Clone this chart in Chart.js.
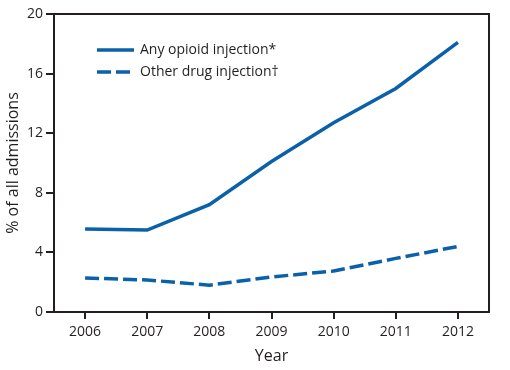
<!DOCTYPE html>
<html lang="en">
<head>
    <meta charset="UTF-8">
    <title>Injection drug use admissions</title>
    <script src="https://cdn.jsdelivr.net/npm/chart.js"></script>
    <style>
        body {
            margin: 0;
            background: white;
        }
        #wrap {
            width: 510px;
            height: 370px;
        }
    </style>
</head>
<body>
    <div id="wrap"><canvas id="chart" width="510" height="370"></canvas></div>

    <script>
        const years = ["2006", "2007", "2008", "2009", "2010", "2011", "2012"];
        const opioid = [5.57, 5.5, 7.2, 10.1, 12.7, 15.0, 18.1];
        const otherDrug = [2.28, 2.15, 1.8, 2.35, 2.75, 3.6, 4.4];
        const yTicks = [0, 4, 8, 12, 16, 20];

        const blue = "#0a61aa";
        const ink = "#231f20";
        const font = "'Open Sans', sans-serif";

        // box around the plot area plus the legend inside it
        const boxAndLegend = {
            id: "boxAndLegend",
            afterDraw(chart) {
                const ctx = chart.ctx;
                const a = chart.chartArea;
                ctx.save();
                ctx.strokeStyle = ink;
                ctx.lineWidth = 2;
                ctx.strokeRect(a.left, a.top, a.right - a.left, a.bottom - a.top);

                const items = [
                    { text: "Any opioid injection*", dash: [] },
                    { text: "Other drug injection\u2020", dash: [14, 5] }
                ];
                ctx.font = "14px " + font;
                ctx.textBaseline = "middle";
                items.forEach((it, i) => {
                    const y = 50 + i * 22;
                    ctx.strokeStyle = blue;
                    ctx.lineWidth = 3.5;
                    ctx.setLineDash(it.dash);
                    ctx.beginPath();
                    ctx.moveTo(97, y);
                    ctx.lineTo(134, y);
                    ctx.stroke();
                    ctx.setLineDash([]);
                    ctx.fillStyle = ink;
                    ctx.fillText(it.text, 140, y);
                });
                ctx.restore();
            }
        };

        new Chart(document.getElementById("chart"), {
            type: "line",
            data: {
                labels: years,
                datasets: [
                    { label: "Any opioid injection*", data: opioid, borderColor: blue, borderWidth: 3.5, pointRadius: 0, tension: 0 },
                    { label: "Other drug injection\u2020", data: otherDrug, borderColor: blue, borderWidth: 3.5, borderDash: [14, 5], pointRadius: 0, tension: 0 }
                ]
            },
            options: {
                responsive: false,
                animation: false,
                layout: { padding: { top: 14, right: 21, left: 0, bottom: 0 } },
                plugins: { legend: { display: false }, tooltip: { enabled: false } },
                scales: {
                    x: {
                        offset: true,
                        grid: { offset: false, drawOnChartArea: false, drawTicks: true, tickLength: 7, color: ink, lineWidth: 2 },
                        border: { display: false },
                        ticks: { color: ink, font: { family: font, size: 14 }, padding: 5, maxRotation: 0 },
                        title: { display: true, text: "Year", color: ink, font: { family: font, size: 16 }, padding: { top: 0 } },
                        afterFit(s) { s.height = 58; }
                    },
                    y: {
                        min: 0,
                        max: 20,
                        afterBuildTicks(s) { s.ticks = yTicks.map(v => ({ value: v })); },
                        grid: { drawOnChartArea: false, drawTicks: true, tickLength: 8, color: ink, lineWidth: 2 },
                        border: { display: false },
                        ticks: { color: ink, font: { family: font, size: 14 }, padding: 3 },
                        title: { display: true, text: "% of all admissions", color: ink, font: { family: font, size: 16 }, padding: { bottom: 2 } },
                        afterFit(s) { s.width = 54; }
                    }
                }
            },
            plugins: [boxAndLegend]
        });
    </script>
</body>
</html>
